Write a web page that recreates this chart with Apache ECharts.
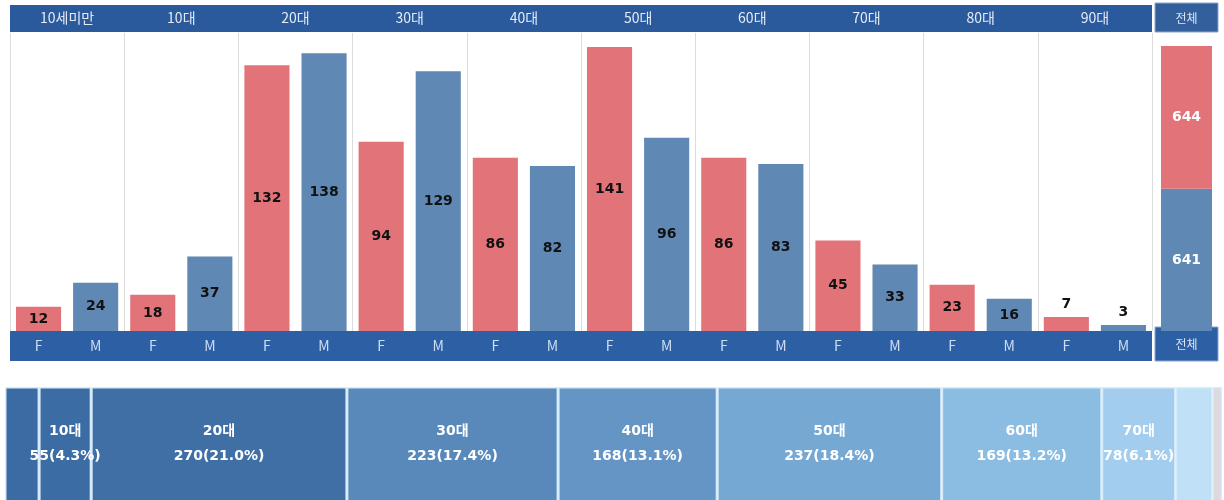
<!DOCTYPE html>
<html>
<head>
<meta charset="utf-8">
<script src="https://cdn.jsdelivr.net/npm/echarts@6/dist/echarts.min.js"></script>
<style>html,body{margin:0;padding:0;background:#fff;}#c{width:1224px;height:500px;}</style>
</head>
<body>
<div id="c"></div>
<script>
const ages = ['10세미만','10대','20대','30대','40대','50대','60대','70대','80대','90대'];
const female = [12,18,132,94,86,141,86,45,23,7];
const male = [24,37,138,129,82,96,83,33,16,3];
const totalLabel = '전체';
const segColors = ['#3b6ba2','#3c6ca4','#3f6fa5','#5989bb','#6595c5','#76a8d4','#8bbce2','#a3cdee','#bfe0f6','#ddd9dc'];

const sumF = female.reduce((a,b)=>a+b,0);
const sumM = male.reduce((a,b)=>a+b,0);
const grand = sumF + sumM;
const ageTotals = ages.map((a,i)=>female[i]+male[i]);
const fmCats = [];
const fmData = [];
ages.forEach((a,i)=>{
  fmCats.push(a+'|F'); fmCats.push(a+'|M');
  fmData.push({value:female[i], itemStyle:{color:'#e27479'}, label:{position: female[i] < 10 ? 'top' : 'inside'}});
  fmData.push({value:male[i], itemStyle:{color:'#5f88b5'}, label:{position: male[i] < 10 ? 'top' : 'inside'}});
});

const HEAD = '#2b5a9c', FOOT = '#2c5fa4';
const kr = 'Noto Sans CJK KR';
const num = 'DejaVu Sans';
const hidden = {show:false};
const noAxis = {axisLine:hidden, axisTick:hidden, splitLine:hidden};

const chart = echarts.init(document.getElementById('c'));
chart.setOption({
  animation:false,
  grid:[
    {left:10, right:72, top:5, height:27, show:true, backgroundColor:HEAD, borderWidth:0},
    {left:10, right:72, top:33, height:298, show:false},
    {left:10, right:72, top:331, height:30, show:true, backgroundColor:FOOT, borderWidth:0},
    {left:1155, right:6, top:3, height:29, show:true, backgroundColor:'#33609d', borderColor:'#8fa8c8', borderWidth:1},
    {left:1155, right:6, top:33, height:298, show:false},
    {left:1155, right:6, top:327, height:34, show:true, backgroundColor:FOOT, borderColor:'#8fa8c8', borderWidth:1},
    {left:5, right:2, top:387, height:130, show:false, outerBoundsMode:'none'}
  ],
  xAxis:[
    Object.assign({gridIndex:0, type:'category', data:ages,
      axisLabel:{inside:true, margin:14, verticalAlign:'middle', color:'#e3ebf7', fontSize:14, fontFamily:kr, interval:0}}, noAxis),
    {gridIndex:1, type:'category', data:ages, position:'top', axisLine:hidden, axisTick:hidden, axisLabel:hidden,
      splitLine:{show:true, interval:0, lineStyle:{color:'#dcdcdc', width:1}}},
    Object.assign({gridIndex:1, type:'category', data:fmCats, position:'bottom', axisLabel:hidden}, noAxis),
    Object.assign({gridIndex:2, type:'category', data:fmCats,
      axisLabel:{inside:true, margin:15, verticalAlign:'middle', color:'#cfdff3', fontSize:14, fontFamily:kr, interval:0,
        formatter:v=>v.split('|')[1]}}, noAxis),
    Object.assign({gridIndex:3, type:'category', data:[totalLabel],
      axisLabel:{inside:true, margin:14, verticalAlign:'middle', color:'#dde6f3', fontSize:12, fontFamily:kr}}, noAxis),
    Object.assign({gridIndex:4, type:'category', data:[totalLabel], axisLabel:hidden}, noAxis),
    Object.assign({gridIndex:5, type:'category', data:[totalLabel],
      axisLabel:{inside:true, margin:17, verticalAlign:'middle', color:'#dde6f3', fontSize:12, fontFamily:kr}}, noAxis),
    Object.assign({gridIndex:6, type:'value', min:0, max:grand, axisLabel:hidden}, noAxis)
  ],
  yAxis:[
    Object.assign({gridIndex:0, type:'value', axisLabel:hidden}, noAxis),
    Object.assign({gridIndex:1, type:'value', min:0, max:148, axisLabel:hidden}, noAxis),
    Object.assign({gridIndex:2, type:'value', axisLabel:hidden}, noAxis),
    Object.assign({gridIndex:3, type:'value', axisLabel:hidden}, noAxis),
    Object.assign({gridIndex:4, type:'value', min:0, max:1344, axisLabel:hidden}, noAxis),
    Object.assign({gridIndex:5, type:'value', axisLabel:hidden}, noAxis),
    Object.assign({gridIndex:6, type:'category', data:['all'], axisLabel:hidden}, noAxis)
  ],
  series:[
    {type:'bar', xAxisIndex:2, yAxisIndex:1, data:fmData, barWidth:'79%',
      label:{show:true, color:'#111', fontWeight:'bold', fontSize:14, fontFamily:num, distance:6}},
    {type:'bar', xAxisIndex:5, yAxisIndex:4, stack:'t', data:[sumM], barWidth:'81%',
      itemStyle:{color:'#5f88b5'},
      label:{show:true, position:'inside', color:'#fff', fontWeight:'bold', fontSize:14, fontFamily:num}},
    {type:'bar', xAxisIndex:5, yAxisIndex:4, stack:'t', data:[sumF], barWidth:'81%',
      itemStyle:{color:'#e27479'},
      label:{show:true, position:'inside', color:'#fff', fontWeight:'bold', fontSize:14, fontFamily:num}}
  ].concat(ages.map((a,i)=>{
    const pct = (ageTotals[i]/grand*100).toFixed(1);
    return {type:'bar', name:a, xAxisIndex:7, yAxisIndex:6, stack:'m', barWidth:'100%',
      data:[ageTotals[i]],
      itemStyle:{color:segColors[i], borderColor:'#d6ebfb', borderWidth:1.5},
      label:{show: ageTotals[i]/grand >= 0.04, position:'inside', offset:[0,-8],
        formatter:()=>'{a|'+a+'}\n{b|'+ageTotals[i]+'('+pct+'%)}',
        rich:{a:{color:'#fff', fontWeight:'bold', fontSize:14, fontFamily:num+','+kr, lineHeight:25},
              b:{color:'#fff', fontWeight:'bold', fontSize:14, fontFamily:num, lineHeight:25}}}
    };
  }))
});
</script>
</body>
</html>
